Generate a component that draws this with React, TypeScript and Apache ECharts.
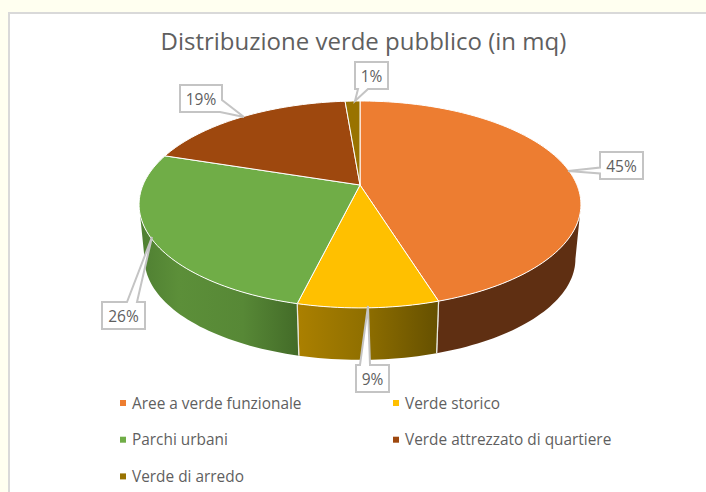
import React, { useEffect, useRef } from "react";
import * as echarts from "echarts";

const CATEGORIES = ["Aree a verde funzionale", "Verde storico", "Parchi urbani", "Verde attrezzato di quartiere", "Verde di arredo"];
const VALUES = [45.2, 8.6, 26.2, 18.7, 1.3];
const COLORS = ["#ED7D31", "#FFC000", "#70AD47", "#9E480E", "#997300"];
const LEGEND_LEFT = [CATEGORIES[0], CATEGORIES[2], CATEGORIES[4]];
const LEGEND_RIGHT = [CATEGORIES[1], CATEGORIES[3]];
const TITLE = "Distribuzione verde pubblico (in mq)";

const FONT = "'Open Sans', 'Noto Sans', sans-serif";
const TEXT = "#5F5F5F";

// projection of the tilted disc
const CX = 360, TOP_Y = 185, BOTTOM_Y = 240, A = 217, B = 99.8, P = 0.188, BOTTOM_SCALE = 0.975;
const project = (deg: number, bottom: boolean): [number, number] => {
  const t = (deg * Math.PI) / 180;
  const d = 1 + P * Math.cos(t);
  const s = bottom ? BOTTOM_SCALE : 1;
  return [CX + (A * s * Math.sin(t)) / d, (bottom ? BOTTOM_Y : TOP_Y) - (B * s * Math.cos(t)) / d];
};
const SIDE_MIN = (Math.acos(-P) * 180) / Math.PI;
const SIDE_MAX = 360 - SIDE_MIN;
const TOTAL = VALUES.reduce((a, b) => a + b, 0);

const arc = (a0: number, a1: number, bottom: boolean) => {
  const n = Math.max(2, Math.ceil(Math.abs(a1 - a0) / 1.5));
  const pts: [number, number][] = [];
  for (let i = 0; i <= n; i++) pts.push(project(a0 + ((a1 - a0) * i) / n, bottom));
  return pts;
};

const grad = (stops: [number, string][]) =>
  new echarts.graphic.LinearGradient(0, 0, 1, 0, stops.map(([offset, color]) => ({ offset, color })));

const SIDE_FILLS: any[] = [
  "#5F2F12",
  grad([[0, "#AB8000"], [0.45, "#917000"], [1, "#655000"]]),
  grad([[0, "#4F7F32"], [0.25, "#5C8F39"], [0.65, "#578836"], [1, "#436B28"]]),
  "#5F2F12",
  "#5C4500",
];

// callout outlines (box plus pointer), index-matched to VALUES
const CALLOUTS: { pts: number[][]; cx: number; cy: number }[] = [
  { pts: [[600, 152], [643, 152], [643, 179], [600, 179], [600, 173.5], [568, 171], [600, 167.5]], cx: 621.5, cy: 165.5 },
  { pts: [[356, 365], [360, 365], [368, 306], [370, 365], [389, 365], [389, 392], [356, 392]], cx: 372.5, cy: 379 },
  { pts: [[102, 302], [127, 302], [152, 237], [137, 302], [145, 302], [145, 329], [102, 329]], cx: 123.5, cy: 316 },
  { pts: [[180, 85], [222, 85], [222, 100], [244, 117], [220, 112], [180, 112]], cx: 201, cy: 98.5 },
  { pts: [[355, 62], [388, 62], [388, 89], [368, 89], [355, 101], [358, 89], [355, 89]], cx: 371.5, cy: 75.5 },
];

const sliceSeries = (idx: number) => {
  const before = VALUES.slice(0, idx).reduce((a, b) => a + b, 0);
  return {
    type: "custom",
    name: CATEGORIES[idx],
    coordinateSystem: "none",
    silent: true,
    itemStyle: { color: COLORS[idx] },
    data: [VALUES[idx]],
    renderItem: (_p: any, api: any) => {
      const v = api.value(0);
      const a0 = (before / TOTAL) * 360;
      const a1 = ((before + v) / TOTAL) * 360;
      const children: any[] = [];
      const s0 = Math.max(a0, SIDE_MIN);
      const s1 = Math.min(a1, SIDE_MAX);
      if (s1 > s0) {
        const points = [...arc(s0, s1, false), ...arc(s1, s0, true)];
        children.push({
          type: "polygon",
          shape: { points },
          style: { fill: SIDE_FILLS[idx], stroke: null },
        });
        const edges = [s0 === a0 ? s0 : null, s1 === a1 ? s1 : null];
        edges.forEach((e) => {
          if (e === null) return;
          const [x1, y1] = project(e, false);
          const [x2, y2] = project(e, true);
          children.push({ type: "line", shape: { x1, y1, x2, y2 }, style: { stroke: "#E8E8E0", lineWidth: 1.2 } });
        });
      }
      children.push({
        type: "polygon",
        shape: { points: [[CX, TOP_Y], ...arc(a0, a1, false)] },
        style: { fill: COLORS[idx], stroke: "#FFFFFF", lineWidth: 1, lineJoin: "round" },
      });
      return { type: "group", children };
    },
  };
};

const calloutSeries = {
  type: "custom",
  name: "Etichette",
  coordinateSystem: "none",
  silent: true,
  z: 10,
  data: VALUES.map((v, i) => [v, i]),
  renderItem: (_p: any, api: any) => {
    const v = api.value(0);
    const c = CALLOUTS[api.value(1)];
    return {
      type: "group",
      children: [
        { type: "polygon", shape: { points: c.pts }, style: { fill: "#FFFFFF", stroke: "#C4C4C4", lineWidth: 2 } },
        {
          type: "text",
          style: {
            x: c.cx,
            y: c.cy,
            text: `${Math.round((v / TOTAL) * 100)}%`,
            fill: TEXT,
            font: `15.5px ${FONT}`,
            align: "center",
            verticalAlign: "middle",
          },
        },
      ],
    };
  },
};

const legendBase = {
  orient: "vertical",
  top: 393,
  icon: "rect",
  itemWidth: 6,
  itemHeight: 6,
  itemGap: 16.7,
  selectedMode: false,
  padding: 0,
  textStyle: { color: TEXT, fontSize: 15.4, fontFamily: FONT, padding: [0, 0, 0, 1], lineHeight: 20 },
};

export default function App() {
  const ref = useRef<HTMLDivElement>(null);
  useEffect(() => {
    const chart = echarts.init(ref.current!, undefined, { renderer: "svg" });
    chart.setOption({
      animation: false,
      backgroundColor: "#FFFFF0",
      title: {
        text: TITLE,
        left: 160.5,
        top: 28,
        padding: 0,
        textStyle: { color: TEXT, fontSize: 24, fontWeight: "normal", fontFamily: FONT },
      },
      legend: [
        { ...legendBase, left: 120, data: LEGEND_LEFT },
        { ...legendBase, left: 393, data: LEGEND_RIGHT },
      ],
      graphic: [
        {
          type: "rect",
          z: -10,
          shape: { x: 9, y: 13, width: 720, height: 500 },
          style: { fill: "#FFFFFF", stroke: "#D9D9D9", lineWidth: 2 },
        },
      ],
      series: [...CATEGORIES.map((_, i) => sliceSeries(i)), calloutSeries],
    });
    return () => chart.dispose();
  }, []);
  return <div ref={ref} style={{ position: "absolute", left: 0, top: 0, width: 706, height: 492 }} />;
}
